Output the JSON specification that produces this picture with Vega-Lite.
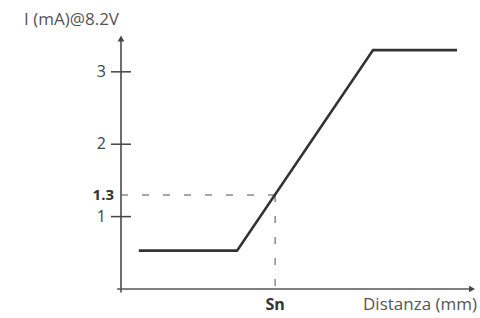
{
  "$schema": "https://vega.github.io/schema/vega-lite/v6.json",
  "width": 356,
  "height": 257,
  "autosize": "none",
  "padding": {"left": 121, "top": 32, "right": 3, "bottom": 29},
  "background": "white",
  "config": {"view": {"stroke": null}},
  "datasets": {
    "curve": [
      {"x": 0.5, "y": 0.53},
      {"x": 3.26, "y": 0.53},
      {"x": 7.08, "y": 3.30},
      {"x": 9.44, "y": 3.30}
    ],
    "axes": [
      {"x": -0.11, "y": 0, "x2": 9.9, "y2": 0},
      {"x": 0, "y": -0.05, "x2": 0, "y2": 3.45}
    ],
    "arrows": [
      {"x": 9.86, "y": 0, "shape": "triangle-right"},
      {"x": 0, "y": 3.46, "shape": "triangle-up"}
    ],
    "ticks": [
      {"y": 1, "label": "1"},
      {"y": 2, "label": "2"},
      {"y": 3, "label": "3"}
    ],
    "dashed": [
      {"x": 0, "y": 1.3, "x2": 4.33, "y2": 1.3},
      {"x": 4.33, "y": 1.3, "x2": 4.33, "y2": 0}
    ],
    "marker": [{"x": 0, "y": 1.3, "label": "1.3"}],
    "sn": [{"x": 4.33, "y": 0, "label": "Sn"}],
    "xtitle": [{"x": 10, "y": 0, "label": "Distanza (mm)"}],
    "ytitle": [{"x": 0, "y": 3.55, "label": "I (mA)@8.2V"}]
  },
  "layer": [
    {
      "data": {"name": "dashed"},
      "mark": {"type": "rule", "color": "#8a8a8a", "strokeWidth": 1.5, "strokeDash": [7, 14]},
      "encoding": {
        "x": {"field": "x", "type": "quantitative", "scale": {"domain": [0, 10], "nice": false, "zero": false}, "axis": null},
        "y": {"field": "y", "type": "quantitative", "scale": {"domain": [0, 3.55], "nice": false, "zero": false}, "axis": null},
        "x2": {"field": "x2"},
        "y2": {"field": "y2"}
      }
    },
    {
      "data": {"name": "axes"},
      "mark": {"type": "rule", "color": "#555555", "strokeWidth": 1.7},
      "encoding": {
        "x": {"field": "x", "type": "quantitative"},
        "y": {"field": "y", "type": "quantitative"},
        "x2": {"field": "x2"},
        "y2": {"field": "y2"}
      }
    },
    {
      "data": {"name": "arrows"},
      "mark": {"type": "point", "filled": true, "color": "#444444", "size": 45, "opacity": 1},
      "encoding": {
        "x": {"field": "x", "type": "quantitative"},
        "y": {"field": "y", "type": "quantitative"},
        "shape": {"field": "shape", "type": "nominal", "scale": null}
      }
    },
    {
      "data": {"name": "ticks"},
      "mark": {"type": "tick", "orient": "horizontal", "size": 20, "thickness": 1.5, "color": "#444444", "opacity": 1},
      "encoding": {
        "x": {"datum": 0, "type": "quantitative"},
        "y": {"field": "y", "type": "quantitative"}
      }
    },
    {
      "data": {"name": "ticks"},
      "mark": {"type": "text", "align": "right", "baseline": "middle", "dx": -15, "font": "Open Sans", "fontSize": 16, "color": "#444444"},
      "encoding": {
        "x": {"datum": 0, "type": "quantitative"},
        "y": {"field": "y", "type": "quantitative"},
        "text": {"field": "label"}
      }
    },
    {
      "data": {"name": "marker"},
      "mark": {"type": "text", "align": "right", "baseline": "middle", "dx": -7, "font": "Open Sans", "fontSize": 15, "fontWeight": "bold", "color": "#333333"},
      "encoding": {
        "x": {"field": "x", "type": "quantitative"},
        "y": {"field": "y", "type": "quantitative"},
        "text": {"field": "label"}
      }
    },
    {
      "data": {"name": "curve"},
      "mark": {"type": "line", "color": "#333333", "strokeWidth": 2.6},
      "encoding": {
        "x": {"field": "x", "type": "quantitative"},
        "y": {"field": "y", "type": "quantitative"}
      }
    },
    {
      "data": {"name": "sn"},
      "mark": {"type": "text", "align": "center", "baseline": "alphabetic", "dy": 21, "font": "Open Sans", "fontSize": 16, "fontWeight": "bold", "color": "#333333"},
      "encoding": {
        "x": {"field": "x", "type": "quantitative"},
        "y": {"field": "y", "type": "quantitative"},
        "text": {"field": "label"}
      }
    },
    {
      "data": {"name": "xtitle"},
      "mark": {"type": "text", "align": "right", "baseline": "alphabetic", "dy": 21, "font": "Open Sans", "fontSize": 17, "color": "#555555"},
      "encoding": {
        "x": {"field": "x", "type": "quantitative"},
        "y": {"field": "y", "type": "quantitative"},
        "text": {"field": "label"}
      }
    },
    {
      "data": {"name": "ytitle"},
      "mark": {"type": "text", "align": "right", "baseline": "alphabetic", "dx": -2, "dy": -7, "font": "Open Sans", "fontSize": 17, "color": "#555555"},
      "encoding": {
        "x": {"field": "x", "type": "quantitative"},
        "y": {"field": "y", "type": "quantitative"},
        "text": {"field": "label"}
      }
    }
  ]
}
